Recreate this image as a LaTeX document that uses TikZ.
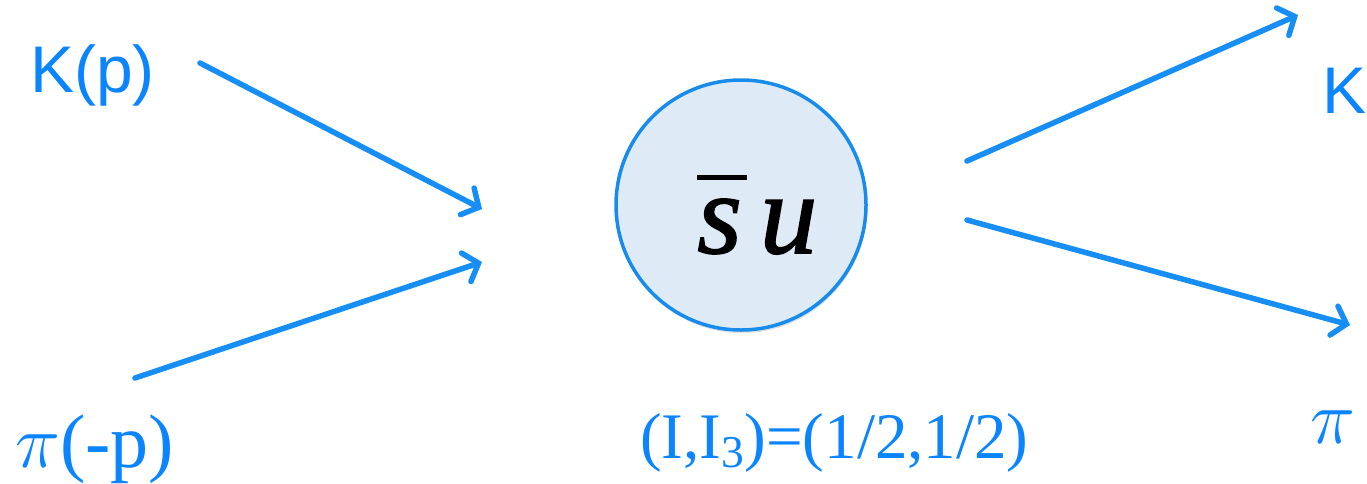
\RequirePackage{fix-cm}
\documentclass[tikz,border=0pt]{standalone}
\usepackage{fontspec}
\setmainfont{Liberation Serif}
\newfontfamily\helv{Liberation Sans}
\newfontfamily\quarkfont[FakeBold=1.3]{Liberation Serif Italic}
\usetikzlibrary{arrows.meta,shadows}
\definecolor{lineblue}{RGB}{22,142,245}
\definecolor{textblue}{RGB}{10,132,255}
\definecolor{blobfill}{RGB}{222,234,246}
\definecolor{blobedge}{RGB}{24,140,236}

\begin{document}
\begin{tikzpicture}[x=1pt,y=-1pt,
    flow/.style={lineblue, line width=5.5pt, line cap=round,
      -{Straight Barb[length=13pt,width=30pt,line cap=round]}},
    ptl/.style={textblue, inner sep=0pt, anchor=base west}]
    \useasboundingbox (0,0) rectangle (1367,483);

    \node[circle, minimum size=250pt, fill=blobfill, draw=blobedge, line width=3.5pt,
      drop shadow={opacity=0.25, shadow xshift=1pt, shadow yshift=-3pt}] (blob) at (741,205) {};
    \node[inner sep=0pt, anchor=base west, font=\quarkfont\fontsize{115}{130}\selectfont] (quarks) at (697,253)
      {\rlap{\rule[73pt]{50pt}{5pt}}s\hspace{18pt}u};

    \node[ptl, font=\helv\fontsize{66}{78}\selectfont] (kin) at (30,92) {K(p)};
    \node[ptl, font=\fontsize{76}{90}\selectfont] (piin) at (15,467) {$\pi$(-p)};
    \node[ptl, font=\helv\fontsize{66}{78}\selectfont] (kout) at (1322,113) {K};
    \node[ptl, font=\fontsize{76}{90}\selectfont] (piout) at (1310,443) {$\pi$};
    \node[ptl, font=\fontsize{65}{78}\selectfont] (iso) at (640,458) {(I,I\textsubscript{3})=(1/2,1/2)};

    \coordinate (kin-s) at (200,63);
    \coordinate (kin-e) at (482,209);
    \coordinate (piin-s) at (135,378);
    \coordinate (piin-e) at (482,262);
    \coordinate (kout-s) at (967,161);
    \coordinate (kout-e) at (1298,15);
    \coordinate (piout-s) at (967,220);
    \coordinate (piout-e) at (1350,325);

    \draw[flow] (kin-s) -- (kin-e);
    \draw[flow] (piin-s) -- (piin-e);
    \draw[flow] (kout-s) -- (kout-e);
    \draw[flow] (piout-s) -- (piout-e);
\end{tikzpicture}
\end{document}
